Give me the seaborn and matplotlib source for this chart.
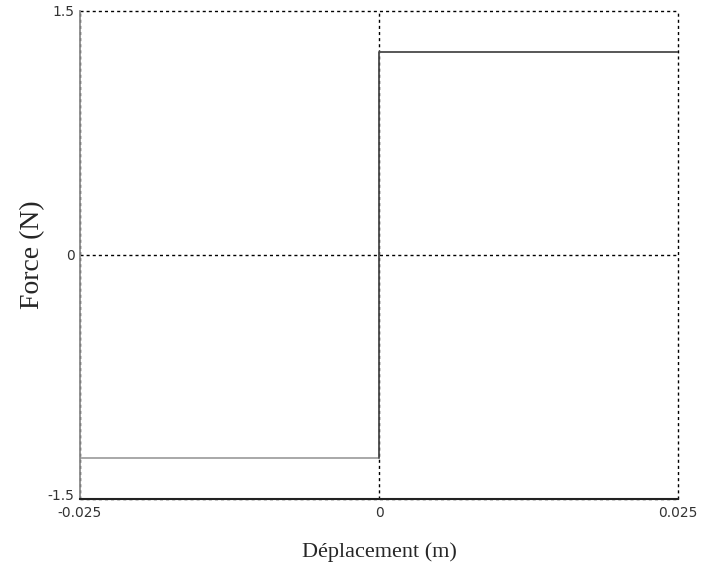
import matplotlib
matplotlib.use("Agg")
import matplotlib.pyplot as plt
import matplotlib.transforms as mtransforms
import seaborn as sns
import pandas as pd

# Data
x_neg = [-0.025, 0.0]
y_neg = [-1.25, -1.25]
x_pos = [0.0, 0.0, 0.025]
y_pos = [-1.25, 1.25, 1.25]
x_ticks = [-0.025, 0.0, 0.025]
x_ticklabels = ["-0.025", "0", "0.025"]
y_ticks = [-1.5, 0.0, 1.5]
y_ticklabels = ["-1.5", "0", "1.5"]

sns.set_style("white")
plt.rcParams['font.family'] = ['DejaVu Sans']

fig = plt.figure(figsize=(7.02, 5.74), dpi=100)
ax = fig.add_axes([80/702, 1-499/574, (678-80)/702, (499-11)/574])

df_neg = pd.DataFrame({"x": x_neg, "y": y_neg})
df_pos = pd.DataFrame({"x": x_pos, "y": y_pos})

ax.set_xlim(-0.025, 0.025)
ax.set_ylim(-1.5, 1.5)

# grid lines (dotted)
for xv in x_ticks:
    ax.axvline(xv, color="black", linestyle=(0, (2.2, 2.2)), linewidth=1.0, zorder=1, clip_on=False)
for yv in y_ticks:
    ax.axhline(yv, color="black", linestyle=(0, (2.2, 2.2)), linewidth=1.0, zorder=1, clip_on=False)

sns.lineplot(data=df_neg, x="x", y="y", sort=False, estimator=None,
             color="#9a9a9a", linewidth=1.2, ax=ax, zorder=3)
sns.lineplot(data=df_pos, x="x", y="y", sort=False, estimator=None,
             color="#4a4a4a", linewidth=1.3, ax=ax, zorder=3)

for s in ["top", "right"]:
    ax.spines[s].set_visible(False)
ax.spines["left"].set_color("#8a8a8a")
ax.spines["left"].set_linewidth(1.3)
ax.spines["left"].set_zorder(4)
ax.spines["bottom"].set_color("#222222")
ax.spines["bottom"].set_linewidth(1.5)
ax.spines["bottom"].set_zorder(4)

ax.set_xticks(x_ticks)
ax.set_xticklabels(x_ticklabels)
ax.set_yticks(y_ticks)
ax.set_yticklabels(y_ticklabels)
ax.tick_params(axis="both", length=0, labelsize=10, colors="#333333")
ax.tick_params(axis="x", pad=5)
ax.tick_params(axis="y", pad=4)

# nudge the lowest y tick label up a little so it clears the x tick label
lab = ax.get_yticklabels()[0]
lab.set_transform(lab.get_transform() + mtransforms.ScaledTranslation(0, 4/100, fig.dpi_scale_trans))

serif = ["Liberation Serif", "DejaVu Serif"]
ax.set_xlabel("Déplacement (m)", family=serif, fontsize=16, labelpad=16)
ax.set_ylabel("Force (N)", family=serif, fontsize=20, labelpad=2)

fig.savefig("out.png", dpi=100)
